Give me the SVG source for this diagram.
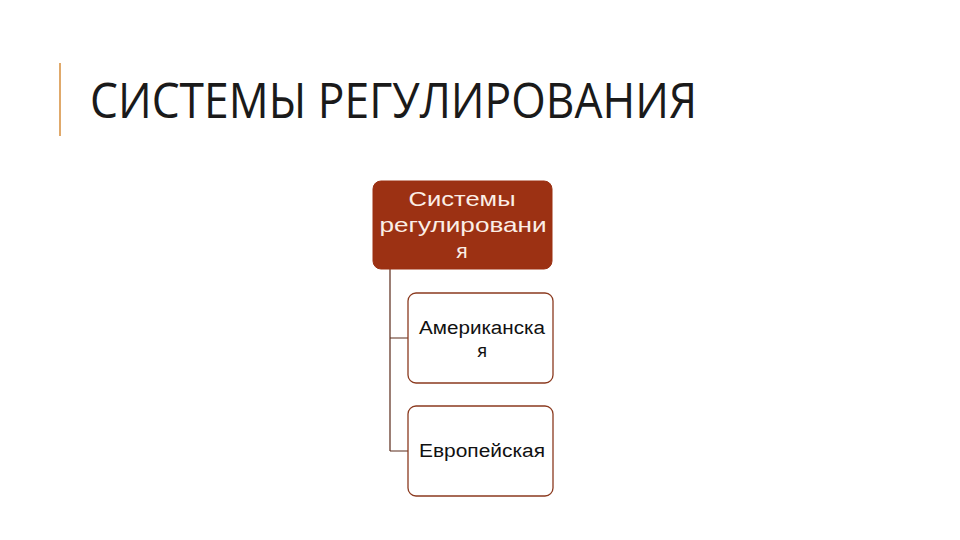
<svg xmlns="http://www.w3.org/2000/svg" width="960" height="540" viewBox="0 0 960 540">
<style>
.title{font-family:"Open Sans","Liberation Sans",sans-serif;font-weight:400;font-size:49px;fill:#1a1a1a}
.root rect{fill:#9c3113;stroke:#9c3113}
.root text{font-family:"Liberation Sans",Arial,sans-serif;font-size:21px;fill:#fbeee6;text-anchor:middle}
.child rect{fill:#ffffff;stroke:#8b3a1f;stroke-width:1.3}
.child text{font-family:"Liberation Sans",Arial,sans-serif;font-size:18px;fill:#111;text-anchor:middle}
.conn{stroke:#5a2a1a;stroke-width:1.2;fill:none}
</style>
<rect width="960" height="540" fill="#ffffff"/>
<line x1="60" y1="63" x2="60" y2="136" stroke="#e0a96b" stroke-width="2"/>
<text class="title" x="90" y="118" textLength="607" lengthAdjust="spacingAndGlyphs">СИСТЕМЫ РЕГУЛИРОВАНИЯ</text>
<g id="connectors">
<path class="conn" d="M390 269 V451 M390 338 H408 M390 451 H408"/>
</g>
<g id="root" class="root">
<rect x="373" y="181" width="179" height="88" rx="8"/>
<text x="462" y="206" textLength="107" lengthAdjust="spacingAndGlyphs">Системы</text>
<text x="463" y="232" textLength="167" lengthAdjust="spacingAndGlyphs">регулировани</text>
<text x="462" y="258">я</text>
</g>
<g id="american" class="child">
<rect x="408" y="293" width="145" height="90" rx="8"/>
<text x="482" y="334" textLength="126" lengthAdjust="spacingAndGlyphs">Американска</text>
<text x="482" y="357">я</text>
</g>
<g id="european" class="child">
<rect x="408" y="406" width="145" height="90" rx="8"/>
<text x="482" y="457" textLength="126" lengthAdjust="spacingAndGlyphs">Европейская</text>
</g>
</svg>
